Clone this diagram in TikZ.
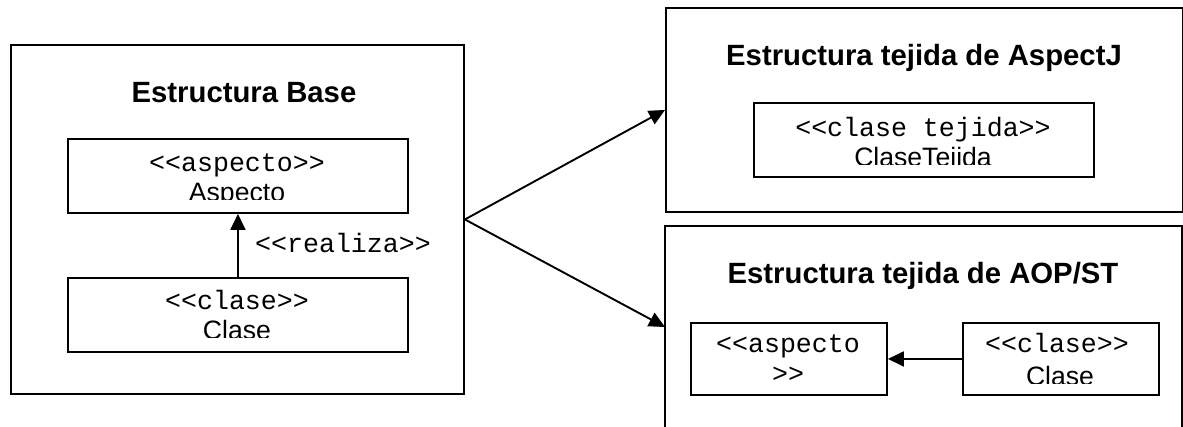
\documentclass[tikz,border=0pt]{standalone}
\usepackage{fontspec}
\setmainfont{Liberation Sans}
\setmonofont{Liberation Mono}
\usetikzlibrary{arrows.meta}
\tikzset{
  outerframe/.style={draw, line width=1.9pt, inner sep=0pt, anchor=north west},
  umlbox/.style={draw, line width=1.9pt, inner sep=0pt, anchor=north west},
  boxtitle/.style={anchor=base, inner sep=0pt, font=\fontsize{29.3}{32}\selectfont\bfseries},
  stereo/.style={anchor=base, inner sep=0pt, font=\fontsize{26.6}{29}\selectfont\ttfamily},
  clsname/.style={anchor=base, inner sep=0pt, font=\fontsize{26.6}{29}\selectfont},
  link/.style={line width=1.9pt, -{Triangle[length=16pt,width=15pt]}},
}
\begin{document}
\begin{tikzpicture}[x=1pt,y=-1pt]
\useasboundingbox (0,0) rectangle (1183,427);

% base structure
\node[outerframe, minimum width=453pt, minimum height=349pt] (base) at (10,44) {};
\node[boxtitle] (basetitle) at (244,103) {Estructura Base};

\node[umlbox, minimum width=340pt, minimum height=74pt] (asp) at (67,138) {};
\begin{scope}
  \clip (67,138) rectangle (407,200);
  \node[stereo] (asps) at (237,172) {<{}<aspecto>{}>};
  \node[clsname] (aspn) at (237,202) {Aspecto};
\end{scope}

\node[umlbox, minimum width=340pt, minimum height=74pt] (cls) at (67,277) {};
\begin{scope}
  \clip (67,277) rectangle (407,338);
  \node[stereo] (clss) at (237,310) {<{}<clase>{}>};
  \node[clsname] (clsn) at (237,340) {Clase};
\end{scope}

\draw[link] (cls.north) -- (asp.south);
\node[stereo] (real) at (343,253) {<{}<realiza>{}>};

% AspectJ woven structure
\node[outerframe, minimum width=517pt, minimum height=204pt] (aj) at (665,7) {};
\node[boxtitle] (ajtitle) at (924,66) {Estructura tejida de AspectJ};
\node[umlbox, minimum width=340pt, minimum height=74pt] (ajc) at (753,102) {};
\begin{scope}
  \clip (753,102) rectangle (1093,165);
  \node[stereo] (ajcs) at (923,137) {<{}<clase tejida>{}>};
  \node[clsname] (ajcn) at (923,167) {ClaseTejida};
\end{scope}

% AOP/ST woven structure (open at the bottom)
\coordinate (stbl) at (665,432);
\coordinate (sttl) at (665,226);
\coordinate (sttr) at (1182,226);
\coordinate (stbr) at (1182,432);
\coordinate (stin) at (665,327);
\draw[line width=1.9pt] (stbl) -- (sttl) -- (sttr) -- (stbr);
\node[boxtitle] (sttitle) at (923,284) {Estructura tejida de AOP/ST};

\node[umlbox, minimum width=196pt, minimum height=72pt] (sta) at (690,322) {};
\node[stereo] (stas1) at (788,353) {<{}<aspecto};
\node[stereo] (stas2) at (788,383) {>{}>};

\node[umlbox, minimum width=196pt, minimum height=72pt] (stc) at (962,322) {};
\begin{scope}
  \clip (962,322) rectangle (1158,383);
  \node[stereo] (stcs) at (1057,353) {<{}<clase>{}>};
  \node[clsname] (stcn) at (1060,385) {Clase};
\end{scope}

\draw[link] (stc.west) -- (sta.east);

% weaving arrows
\draw[link] (base.east) -- (aj.west);
\draw[link] (base.east) -- (stin);
\end{tikzpicture}
\end{document}
